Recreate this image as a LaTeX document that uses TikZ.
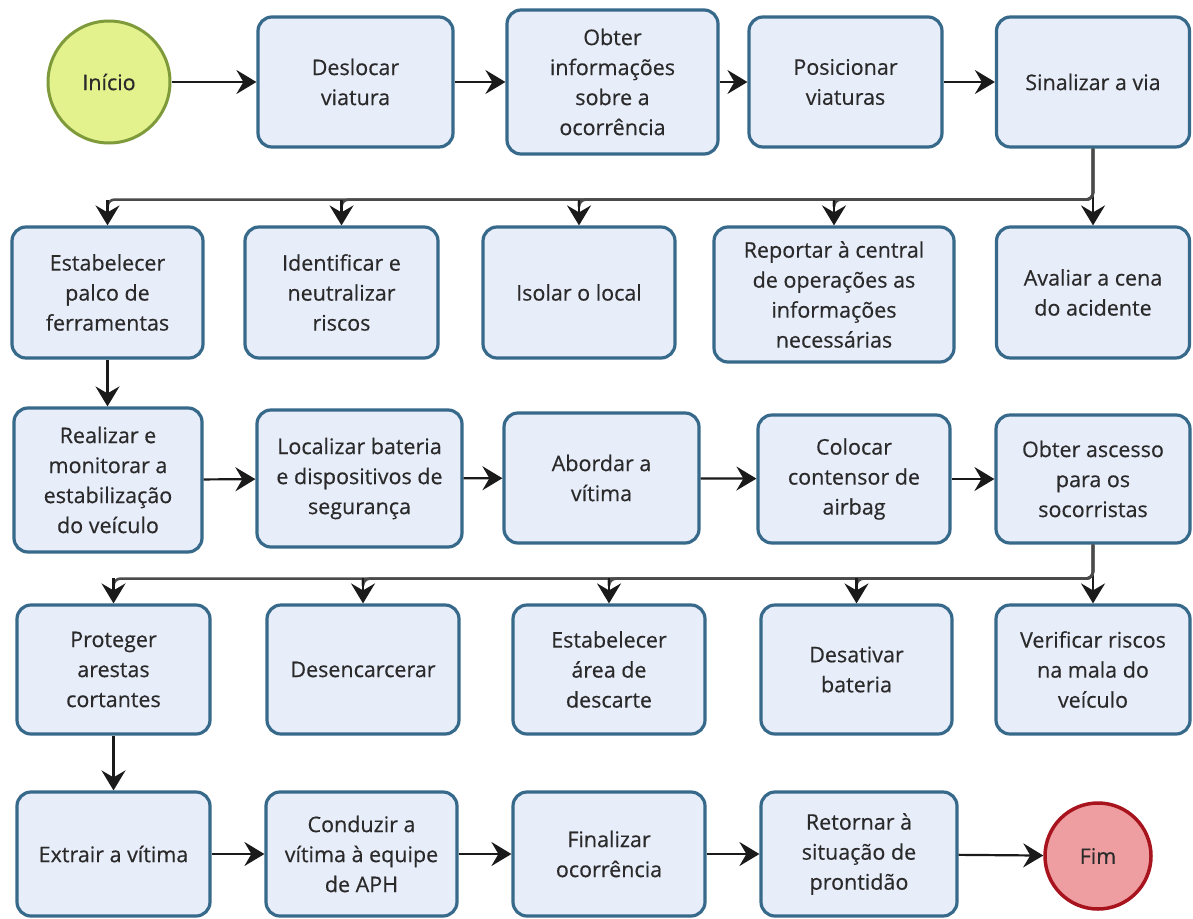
\documentclass[tikz,border=0pt]{standalone}
\usepackage{fontspec}
\setmainfont{Open Sans}
\newfontfamily\boxfont{Open Sans}[FakeBold=0.4]
\usetikzlibrary{arrows.meta,calc}
\definecolor{boxfill}{HTML}{E8EDFA}
\definecolor{boxline}{HTML}{37698A}
\definecolor{txt}{HTML}{2A2A2A}
\definecolor{lnk}{HTML}{1A1A1A}
\definecolor{busc}{HTML}{4A4A4A}
\definecolor{startfill}{HTML}{E3F28C}
\definecolor{startline}{HTML}{7E9A3A}
\definecolor{endfill}{HTML}{EE9EA0}
\definecolor{endline}{HTML}{A8141E}
\begin{document}
\begin{tikzpicture}[x=1pt,y=-1pt,
  box/.style={draw=boxline, fill=boxfill, line width=3.2pt, rounded corners=14pt,
    align=center, text=txt, font=\boxfont\fontsize{21.5}{30}\selectfont, inner sep=0pt},
  startev/.style={circle, draw=startline, fill=startfill, line width=3pt,
    text=txt, font=\boxfont\fontsize{21.5}{30}\selectfont, inner sep=0pt},
  endev/.style={circle, draw=endline, fill=endfill, line width=3.5pt,
    text=txt, font=\boxfont\fontsize{21.5}{30}\selectfont, inner sep=0pt},
  tip/.tip={Stealth[length=20pt,width=24pt,inset=7pt]},
  conn/.style={draw=lnk, line width=2.2pt, -tip},
  drop/.style={draw=lnk, line width=2.4pt, -tip},
  busline/.style={draw=busc, line width=2.6pt, rounded corners=7pt}
]
\fill[white] (0,0) rectangle (1193,918);
\useasboundingbox (0,0) rectangle (1193,918);

% Row 1
\node[startev, minimum size=122pt] (ini) at (109,82) {Início};
\node[box, minimum width=195pt, minimum height=130pt] (desl) at (355.5,82) {Deslocar\\viatura};
\node[box, minimum width=211pt, minimum height=144pt] (obter) at (612.5,82) {Obter\\informações\\sobre a\\ocorrência};
\node[box, minimum width=193pt, minimum height=130pt] (posic) at (845.5,82) {Posicionar\\viaturas};
\node[box, minimum width=193pt, minimum height=130pt] (sinal) at (1093,82) {Sinalizar a via};

% Row 2
\node[box, minimum width=191pt, minimum height=131pt] (estab) at (107.5,292.5) {Estabelecer\\palco de\\ferramentas};
\node[box, minimum width=193pt, minimum height=131pt] (ident) at (341.5,292.5) {Identificar e\\neutralizar\\riscos};
\node[box, minimum width=192pt, minimum height=131pt] (isolar) at (579,292.5) {Isolar o local};
\node[box, minimum width=240pt, minimum height=135pt] (report) at (834,294.5) {Reportar à central\\de operações as\\informações\\necessárias};
\node[box, minimum width=193pt, minimum height=131pt] (aval) at (1093,292.5) {Avaliar a cena\\do acidente};

% Row 3
\node[box, minimum width=188pt, minimum height=144pt] (realiz) at (108,480) {Realizar e\\monitorar a\\estabilização\\do veículo};
\node[box, minimum width=205pt, minimum height=137pt] (local) at (359.5,478.5) {Localizar bateria\\e dispositivos de\\segurança};
\node[box, minimum width=195pt, minimum height=130pt] (abord) at (601.5,478) {Abordar a\\vítima};
\node[box, minimum width=192pt, minimum height=128pt] (coloc) at (854,479) {Colocar\\contensor de\\airbag};
\node[box, minimum width=194pt, minimum height=128pt] (ascesso) at (1093,479) {Obter ascesso\\para os\\socorristas};

% Row 4
\node[box, minimum width=193pt, minimum height=129pt] (proteg) at (113.5,669.5) {Proteger\\arestas\\cortantes};
\node[box, minimum width=192pt, minimum height=129pt] (desenc) at (363,669.5) {Desencarcerar};
\node[box, minimum width=192pt, minimum height=129pt] (area) at (609,669.5) {Estabelecer\\área de\\descarte};
\node[box, minimum width=191pt, minimum height=129pt] (desat) at (856.5,669.5) {Desativar\\bateria};
\node[box, minimum width=194pt, minimum height=129pt] (verif) at (1093,669.5) {Verificar riscos\\na mala do\\veículo};

% Row 5
\node[box, minimum width=193pt, minimum height=124pt] (extr) at (113.5,854) {Extrair a vítima};
\node[box, minimum width=191pt, minimum height=124pt] (cond) at (361.5,854) {Conduzir a\\vítima à equipe\\de APH};
\node[box, minimum width=192pt, minimum height=124pt] (final) at (609,854) {Finalizar\\ocorrência};
\node[box, minimum width=196pt, minimum height=124pt] (retorn) at (859,854) {Retornar à\\situação de\\prontidão};
\node[endev, minimum size=106pt] (fim) at (1098,856) {Fim};

% Row 1 connectors
\draw[conn] (ini) -- (desl);
\draw[conn] (desl) -- (obter);
\draw[conn] (obter) -- (posic);
\draw[conn] (posic) -- (sinal);

% Bus row 1 -> row 2
\draw[drop] (sinal.south) -- (aval.north);
\coordinate (ja) at ($(report.north)+(0,-24)$);
\coordinate (jb) at ($(isolar.north)+(0,-24)$);
\coordinate (jc) at ($(ident.north)+(0,-24)$);
\coordinate (jd) at ($(estab.north)+(0,-24)$);
\draw[busline] (sinal.south) -- ++(0,51) -| (ja);
\draw[busline] (sinal.south) -- ++(0,51) -| (jb);
\draw[busline] (sinal.south) -- ++(0,51) -| (jc);
\draw[busline] (sinal.south) -- ++(0,51) -| (jd);
\draw[drop] ($(ja)+(0,-1)$) -- (report.north);
\draw[drop] ($(jb)+(0,-1)$) -- (isolar.north);
\draw[drop] ($(jc)+(0,-1)$) -- (ident.north);
\draw[drop] ($(jd)+(0,-1)$) -- (estab.north);

% Row 2 -> Row 3
\draw[drop] (estab.south) -- (estab.south |- realiz.north);

% Row 3 connectors
\draw[conn] (realiz) -- (local);
\draw[conn] (local) -- (abord);
\draw[conn] (abord) -- (coloc);
\draw[conn] (coloc) -- (ascesso);

% Bus row 3 -> row 4
\draw[drop] (ascesso.south) -- (verif.north);
\coordinate (ka) at ($(desat.north)+(0,-24)$);
\coordinate (kb) at ($(area.north)+(0,-24)$);
\coordinate (kc) at ($(desenc.north)+(0,-24)$);
\coordinate (kd) at ($(proteg.north)+(0,-24)$);
\draw[busline] (ascesso.south) -- ++(0,34) -| (ka);
\draw[busline] (ascesso.south) -- ++(0,34) -| (kb);
\draw[busline] (ascesso.south) -- ++(0,34) -| (kc);
\draw[busline] (ascesso.south) -- ++(0,34) -| (kd);
\draw[drop] ($(ka)+(0,-1)$) -- (desat.north);
\draw[drop] ($(kb)+(0,-1)$) -- (area.north);
\draw[drop] ($(kc)+(0,-1)$) -- (desenc.north);
\draw[drop] ($(kd)+(0,-1)$) -- (proteg.north);

% Row 4 -> Row 5
\draw[drop] (proteg.south) -- (proteg.south |- extr.north);

% Row 5 connectors
\draw[conn] (extr) -- (cond);
\draw[conn] (cond) -- (final);
\draw[conn] (final) -- (retorn);
\draw[conn] (retorn) -- (fim);
\end{tikzpicture}
\end{document}
